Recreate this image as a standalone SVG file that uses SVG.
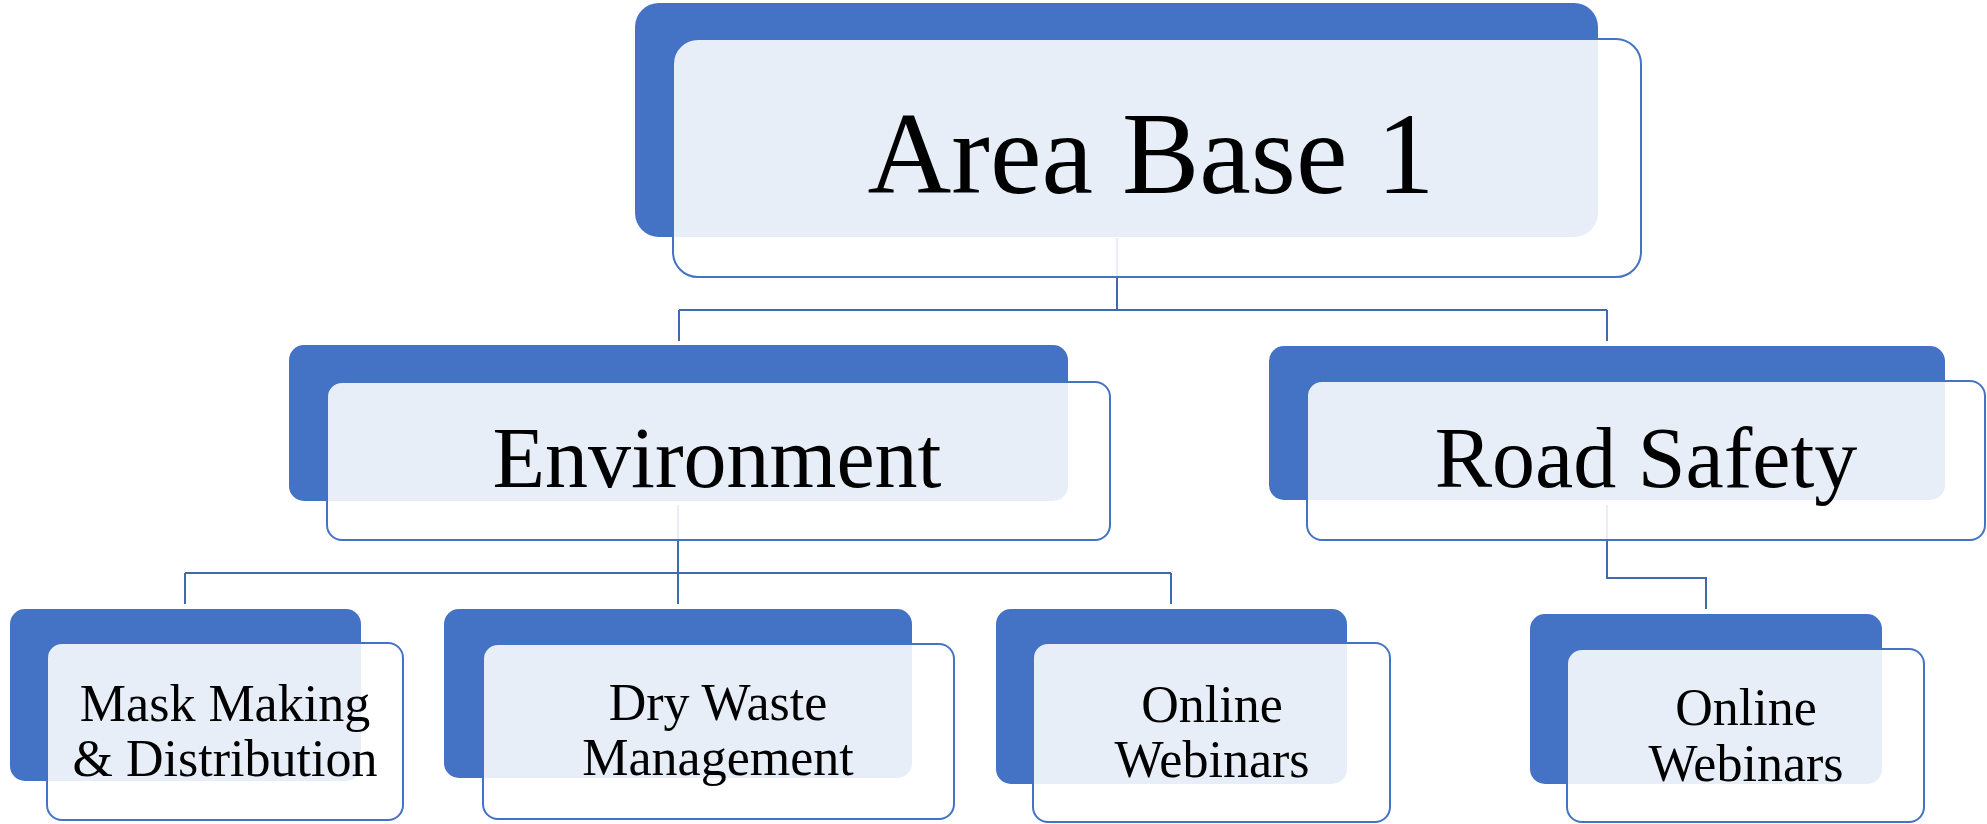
<svg xmlns="http://www.w3.org/2000/svg" width="1987" height="824" viewBox="0 0 1987 824">
<style>
.bg{fill:#4472C4}
.fg{fill:#FFFFFF;fill-opacity:0.88;stroke:#4472C4;stroke-width:2}
.con{fill:none;stroke:#4169B0;stroke-width:2}
text{font-family:"Liberation Serif","Times New Roman",serif;fill:#000;text-anchor:middle}
.t1{font-size:116px}
.t2{font-size:86px}
.t3{font-size:52px}
</style>
<rect width="1987" height="824" fill="#FFFFFF"/>
<g id="connectors">
<path class="con" d="M1117,238 V310 M679,310 H1607 M679,310 V341 M1607,310 V341"/>
<path class="con" d="M678,505 V604 M185,573 H1171 M185,573 V604 M1171,573 V604"/>
<path class="con" d="M1607,505 V578 H1706 V609"/>
</g>
<g id="node-area-base">
<rect class="bg" x="635" y="3" width="963" height="234" rx="24"/>
<rect class="fg" x="673" y="39" width="968" height="238" rx="25"/>
<text class="t1" x="1151" y="193">Area Base 1</text>
</g>
<g id="node-environment">
<rect class="bg" x="289" y="345" width="779" height="156" rx="15"/>
<rect class="fg" x="327" y="382" width="783" height="158" rx="15"/>
<text class="t2" x="717" y="487">Environment</text>
</g>
<g id="node-road-safety">
<rect class="bg" x="1269" y="346" width="676" height="154" rx="15"/>
<rect class="fg" x="1307" y="381" width="678" height="159" rx="15"/>
<text class="t2" x="1646" y="487">Road Safety</text>
</g>
<g id="node-mask">
<rect class="bg" x="10" y="609" width="351" height="172" rx="15"/>
<rect class="fg" x="47" y="643" width="356" height="177" rx="15"/>
<text class="t3" x="225" y="721">Mask Making</text>
<text class="t3" x="225" y="776">&amp; Distribution</text>
</g>
<g id="node-dry-waste">
<rect class="bg" x="444" y="609" width="468" height="169" rx="15"/>
<rect class="fg" x="483" y="644" width="471" height="175" rx="15"/>
<text class="t3" x="718" y="720">Dry Waste</text>
<text class="t3" x="718" y="775">Management</text>
</g>
<g id="node-webinars-1">
<rect class="bg" x="996" y="609" width="351" height="175" rx="15"/>
<rect class="fg" x="1033" y="643" width="357" height="179" rx="15"/>
<text class="t3" x="1212" y="722">Online</text>
<text class="t3" x="1212" y="777">Webinars</text>
</g>
<g id="node-webinars-2">
<rect class="bg" x="1530" y="614" width="352" height="170" rx="15"/>
<rect class="fg" x="1567" y="649" width="357" height="173" rx="15"/>
<text class="t3" x="1746" y="725">Online</text>
<text class="t3" x="1746" y="781">Webinars</text>
</g>
</svg>
